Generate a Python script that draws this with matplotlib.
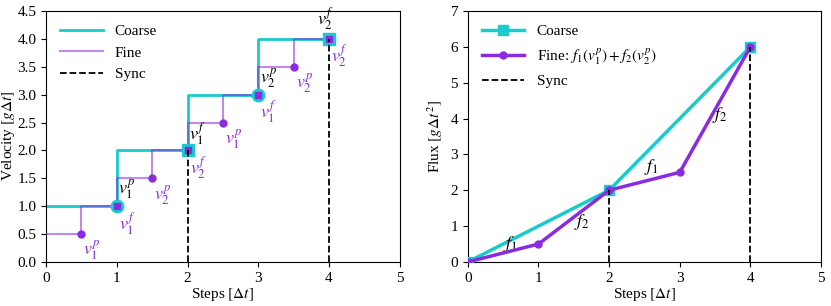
import numpy as np
import matplotlib
matplotlib.use("Agg")
import matplotlib.pyplot as plt

plt.rcParams['font.family'] = ['Liberation Serif', 'DejaVu Serif']
plt.rcParams['mathtext.fontset'] = 'stix'
plt.rcParams['font.size'] = 11

CYAN = '#18cccc'
PURPLE = '#8a2be2'

# left panel: velocity
coarse_x = [0, 1, 2, 3, 4]
coarse_v = [1, 2, 3, 4, 4]
fine_x = [0, 0.5, 1, 1.5, 2, 2.5, 3, 3.5, 4]
fine_v = [0.5, 1, 1.5, 2, 2.5, 3, 3.5, 4, 4]
half_x = [0.5, 1.5, 2.5, 3.5]
half_v = [0.5, 1.5, 2.5, 3.5]
full_x = [1, 2, 3, 4]
full_v = [1, 2, 3, 4]
sync_x = [2, 4]

# right panel: flux
flux_coarse_x = [0, 2, 4]
flux_coarse = [0, 2, 6]
flux_fine_x = [0, 1, 2, 3, 4]
flux_fine = [0, 0.5, 2, 2.5, 6]

fig = plt.figure(figsize=(8.31, 3.06), dpi=100)
ax1 = fig.add_axes([0.0554, 0.144, 0.481 - 0.0554, 0.964 - 0.144])
ax2 = fig.add_axes([0.563, 0.144, 0.988 - 0.563, 0.964 - 0.144])

# ---- left ----
ax1.step(coarse_x, coarse_v, where='post', color=CYAN, lw=2, label='Coarse', zorder=2)
ax1.step(fine_x, fine_v, where='post', color=PURPLE, lw=1.5, alpha=0.55, label='Fine', zorder=3)
ax1.plot(half_x, half_v, 'o', color=PURPLE, ms=5, zorder=5)
ax1.plot([1, 3], [1, 3], 'o', color=CYAN, ms=9, zorder=4)
ax1.plot([2, 4], [2, 4], 's', color=CYAN, ms=9, zorder=4)
ax1.plot(full_x, full_v, 's', color=PURPLE, ms=5, zorder=5)
for xs in sync_x:
    ax1.plot([xs, xs], [0, xs], '--', color='k', lw=1.3, zorder=6)
ax1.plot([], [], '--', color='k', lw=1.3, label='Sync')

lab = dict(fontsize=13)
ax1.text(0.52, 0.42, r'$v_1^p$', color=PURPLE, va='top', **lab)
ax1.text(1.03, 0.92, r'$v_1^f$', color=PURPLE, va='top', **lab)
ax1.text(1.02, 1.52, r'$v_1^p$', color='k', va='top', **lab)
ax1.text(1.53, 1.42, r'$v_2^p$', color=PURPLE, va='top', **lab)
ax1.text(2.03, 1.92, r'$v_2^f$', color=PURPLE, va='top', **lab)
ax1.text(2.02, 2.52, r'$v_1^f$', color='k', va='top', **lab)
ax1.text(2.53, 2.42, r'$v_1^p$', color=PURPLE, va='top', **lab)
ax1.text(3.03, 2.92, r'$v_1^f$', color=PURPLE, va='top', **lab)
ax1.text(3.02, 3.52, r'$v_2^p$', color='k', va='top', **lab)
ax1.text(3.53, 3.42, r'$v_2^p$', color=PURPLE, va='top', **lab)
ax1.text(4.03, 3.92, r'$v_2^f$', color=PURPLE, va='top', **lab)
ax1.text(3.95, 4.1, r'$v_2^f$', color='k', ha='center', va='bottom', **lab)

ax1.set_xlim(0, 5)
ax1.set_ylim(0, 4.5)
ax1.set_yticks(np.arange(0, 4.51, 0.5))
ax1.set_xlabel(r'Steps $[\Delta t]$', labelpad=1)
ax1.set_ylabel(r'Velocity $[g\Delta t]$', labelpad=0)
ax1.legend(loc='upper left', frameon=False, fontsize=11, handlelength=2.8)

# ---- right ----
ax2.plot(flux_coarse_x, flux_coarse, '-s', color=CYAN, lw=2.5, ms=7, label='Coarse', zorder=3)
ax2.plot(flux_fine_x, flux_fine, '-o', color=PURPLE, lw=2.5, ms=5,
         label=r'Fine: $f_1(v_1^p) + f_2(v_2^p)$', zorder=4)
for i, xs in enumerate(sync_x):
    ax2.plot([xs, xs], [0, flux_coarse[i + 1]], '--', color='k', lw=1.3, zorder=5)
ax2.plot([], [], '--', color='k', lw=1.3, label='Sync')

ax2.text(0.5, 0.4, r'$f_1$', fontsize=13)
ax2.text(1.5, 1.0, r'$f_2$', fontsize=13)
ax2.text(2.5, 2.55, r'$f_1$', fontsize=13)
ax2.text(3.45, 4.0, r'$f_2$', fontsize=13)

ax2.set_xlim(0, 5)
ax2.set_ylim(0, 7)
ax2.set_xlabel(r'Steps $[\Delta t]$', labelpad=1)
ax2.set_ylabel(r'Flux $[g\Delta t^2]$', labelpad=4)
ax2.legend(loc='upper left', frameon=False, fontsize=11, handlelength=2.8)

fig.savefig('out.png', dpi=100)
